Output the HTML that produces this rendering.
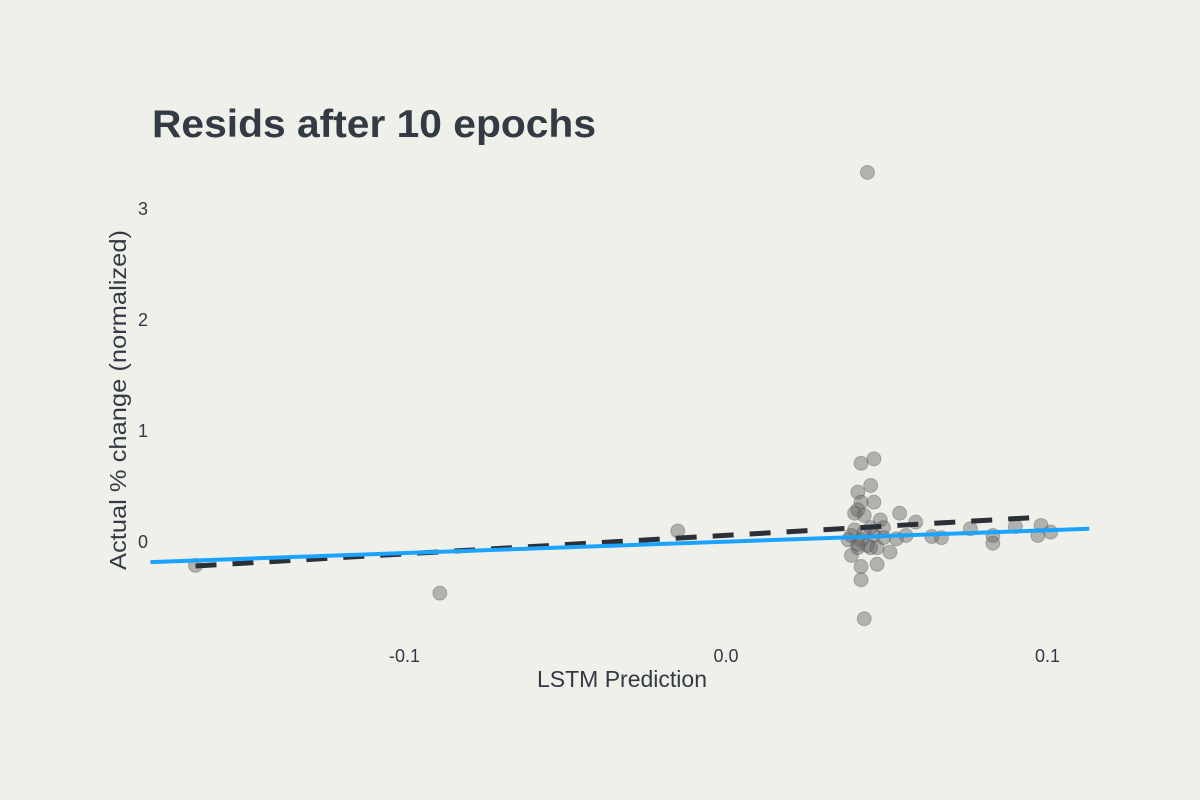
<!DOCTYPE html>
<html><head><meta charset="utf-8"><style>
body{margin:0;background:#f0f0eb;}
svg{display:block;font-family:"Liberation Sans",sans-serif;}
</style></head><body>
<svg id="chart" width="1200" height="800">
<rect width="1200" height="800" fill="#f0f0eb"/>
<text x="152" y="137" font-size="39" font-weight="bold" fill="#333a44" textLength="444" lengthAdjust="spacingAndGlyphs">Resids after 10 epochs</text>
<g id="yticks"></g>
<g id="xticks"></g>
<text x="622" y="687" font-size="23" fill="#333a44" text-anchor="middle">LSTM Prediction</text>
<text transform="translate(126,400) rotate(-90)" font-size="23" fill="#333a44" text-anchor="middle" textLength="340" lengthAdjust="spacingAndGlyphs">Actual % change (normalized)</text>
<g id="points"></g>
<g id="lines"></g>
</svg>
<script>
const xs=[-0.165,-0.089,-0.015,0.044,0.042,0.046,0.045,0.041,0.046,0.042,0.040,0.041,0.043,0.048,0.054,0.059,0.067,0.076,0.083,0.083,0.090,0.097,0.098,0.101,0.064,0.056,0.053,0.051,0.047,0.042,0.042,0.043,0.039,0.041,0.045,0.038,0.040,0.043,0.046,0.049,0.049,0.045,0.039,0.042,0.044,0.047,0.041];
const ys=[-0.22,-0.47,0.09,3.32,0.70,0.74,0.50,0.44,0.35,0.35,0.25,0.28,0.23,0.19,0.25,0.17,0.03,0.11,0.05,-0.02,0.13,0.05,0.14,0.08,0.04,0.05,0.02,-0.10,-0.21,-0.23,-0.35,-0.70,-0.13,-0.06,-0.06,0.01,0.10,0.08,0.05,0.12,0.03,0.12,0.05,0.01,-0.04,-0.06,-0.03];
const identityX=[-0.179,0.113];
const identityY=[-0.19,0.11];
const fitX=[-0.165,0.098];
const fitY=[-0.225,0.215];
const xTickVals=[-0.1,0.0,0.1];
const xTickLabels=["-0.1","0.0","0.1"];
const yTickVals=[0,1,2,3];
const yTickLabels=["0","1","2","3"];
const X=v=>726+3215*v;
const Y=v=>541-111*v;
const NS="http://www.w3.org/2000/svg";
function mk(t,a,p){const e=document.createElementNS(NS,t);for(const k in a)e.setAttribute(k,a[k]);p.appendChild(e);return e;}
const yt=document.getElementById('yticks');
yTickVals.forEach((v,i)=>{const t=mk('text',{x:148,y:Y(v)+7,'font-size':18,fill:'#333a44','text-anchor':'end'},yt);t.textContent=yTickLabels[i];

});
const xt=document.getElementById('xticks');
xTickVals.forEach((v,i)=>{const t=mk('text',{x:X(v),y:662,'font-size':18,fill:'#333a44','text-anchor':'middle'},xt);t.textContent=xTickLabels[i];

});
const pg=document.getElementById('points');
xs.forEach((v,i)=>{const c=mk('circle',{cx:X(v),cy:Y(ys[i]),r:7,fill:'rgba(100,100,100,0.45)',stroke:'rgba(80,80,80,0.35)','stroke-width':1},pg);

});
const lg=document.getElementById('lines');
const l1=mk('line',{x1:X(fitX[0]),y1:Y(fitY[0]),x2:X(fitX[1]),y2:Y(fitY[1]),stroke:'#2b3038','stroke-width':5,'stroke-dasharray':'21 16'},lg);


const l2=mk('line',{x1:X(identityX[0]),y1:Y(identityY[0]),x2:X(identityX[1]),y2:Y(identityY[1]),stroke:'#1aa3ff','stroke-width':4},lg);


</script>
</body></html>
